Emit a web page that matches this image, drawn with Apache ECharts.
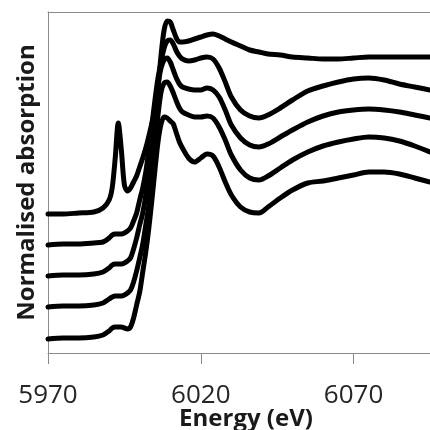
<!DOCTYPE html>
<html>
<head>
<meta charset="utf-8">
<script src="https://cdn.jsdelivr.net/npm/echarts@6/dist/echarts.min.js"></script>
<style>
html,body{margin:0;padding:0;background:#fff;}
#chart{width:430px;height:430px;}
</style>
</head>
<body>
<div id="chart"></div>
<script>
// Energy grid (eV)
const energy = [5970,5975,5980,5985,5988,5990,5991,5992,5993,5994,5995,5996,5997,5998,5999,6000,6001,6002,6003,6004,6005,6006,6007,6008,6009,6010,6011,6012,6013,6014,6016,6018,6020,6022,6024,6026,6028,6030,6033,6036,6039,6042,6046,6050,6055,6060,6065,6070,6075,6080,6085,6090,6095];

// Normalised absorption (offset stacked spectra), top to bottom
const spectrum1 = [1.39,1.39,1.40,1.41,1.45,1.53,1.65,1.95,2.30,2.03,1.68,1.62,1.65,1.71,1.77,1.86,1.95,2.05,2.17,2.30,2.43,2.65,2.98,3.23,3.32,3.31,3.23,3.15,3.11,3.11,3.12,3.14,3.16,3.18,3.19,3.17,3.14,3.11,3.07,3.03,3.01,2.99,2.98,2.96,2.95,2.94,2.94,2.95,2.96,2.96,2.96,2.96,2.96];
const spectrum2 = [1.08,1.09,1.09,1.10,1.11,1.15,1.18,1.19,1.19,1.19,1.20,1.22,1.25,1.32,1.40,1.53,1.65,1.81,2.03,2.28,2.53,2.75,2.91,3.05,3.12,3.13,3.09,3.02,2.97,2.94,2.92,2.93,2.95,2.96,2.94,2.85,2.71,2.56,2.43,2.37,2.35,2.38,2.45,2.53,2.62,2.67,2.71,2.74,2.75,2.73,2.69,2.66,2.63];
const spectrum3 = [0.77,0.78,0.78,0.79,0.81,0.85,0.88,0.89,0.89,0.89,0.90,0.92,0.95,1.04,1.15,1.28,1.40,1.58,1.83,2.13,2.43,2.68,2.85,2.93,2.95,2.91,2.83,2.75,2.69,2.66,2.64,2.63,2.63,2.65,2.63,2.56,2.43,2.28,2.15,2.08,2.06,2.09,2.16,2.23,2.31,2.37,2.41,2.43,2.44,2.43,2.41,2.38,2.35];
const spectrum4 = [0.46,0.47,0.47,0.48,0.50,0.54,0.56,0.57,0.57,0.57,0.58,0.60,0.63,0.71,0.82,0.95,1.09,1.28,1.48,1.75,2.08,2.38,2.61,2.70,2.71,2.67,2.60,2.52,2.45,2.41,2.38,2.36,2.36,2.37,2.35,2.26,2.13,1.98,1.83,1.75,1.73,1.77,1.85,1.93,2.01,2.07,2.11,2.14,2.16,2.15,2.12,2.07,2.01];
const spectrum5 = [0.14,0.15,0.15,0.16,0.18,0.22,0.25,0.26,0.26,0.26,0.25,0.24,0.26,0.35,0.48,0.61,0.81,1.01,1.25,1.53,1.83,2.11,2.29,2.36,2.35,2.32,2.29,2.20,2.11,2.05,1.95,1.91,1.95,1.99,1.97,1.86,1.71,1.58,1.46,1.41,1.40,1.46,1.55,1.63,1.70,1.72,1.75,1.78,1.81,1.81,1.79,1.75,1.71];

const xTickLabels = [5970, 6020, 6070];
const spectra = [spectrum1, spectrum2, spectrum3, spectrum4, spectrum5];

const chart = echarts.init(document.getElementById('chart'), null, {renderer:'canvas'});
const axisGray = '#8a8a8a';
chart.setOption({
  animation:false,
  backgroundColor:'#ffffff',
  grid:{left:48, right:0, top:12, bottom:77, containLabel:false, outerBoundsMode:'none'},
  xAxis:[{
    type:'value', min:5970, max:6095, position:'bottom',
    axisLine:{show:true, onZero:false, lineStyle:{color:axisGray, width:1}},
    axisTick:{show:true, length:11, inside:false, customValues:xTickLabels, lineStyle:{color:axisGray, width:1}},
    axisLabel:{show:true, customValues:xTickLabels, margin:30, fontFamily:'Open Sans', fontSize:26, color:'#262626', showMinLabel:true, showMaxLabel:true,
      formatter:function(v){return String(v);}},
    splitLine:{show:false},
    name:'Energy (eV)', nameLocation:'middle', nameGap:54, nameMoveOverlap:false,
    nameTextStyle:{fontFamily:'Open Sans', fontWeight:'bold', fontSize:24, color:'#1a1a1a', padding:[0,0,0,14]}
  },{
    type:'value', min:5970, max:6095, position:'top',
    axisLine:{show:true, onZero:false, lineStyle:{color:axisGray, width:1}},
    axisTick:{show:false}, axisLabel:{show:false}, splitLine:{show:false}
  }],
  yAxis:{
    type:'value', min:0, max:3.41,
    axisLine:{show:true, onZero:false, lineStyle:{color:axisGray, width:1}},
    axisTick:{show:false}, axisLabel:{show:false}, splitLine:{show:false},
    name:'Normalised absorption', nameLocation:'middle', nameGap:9, nameMoveOverlap:false,
    nameTextStyle:{fontFamily:'Open Sans', fontWeight:'bold', fontSize:24, color:'#1a1a1a'}
  },
  series: spectra.map(function(s){
    return {
      type:'line', xAxisIndex:0, showSymbol:false, smooth:0.3,
      data: energy.map(function(e,i){return [e, s[i]];}),
      lineStyle:{color:'#000', width:5, cap:'round', join:'round'},
      clip:true
    };
  })
});
</script>
</body>
</html>
